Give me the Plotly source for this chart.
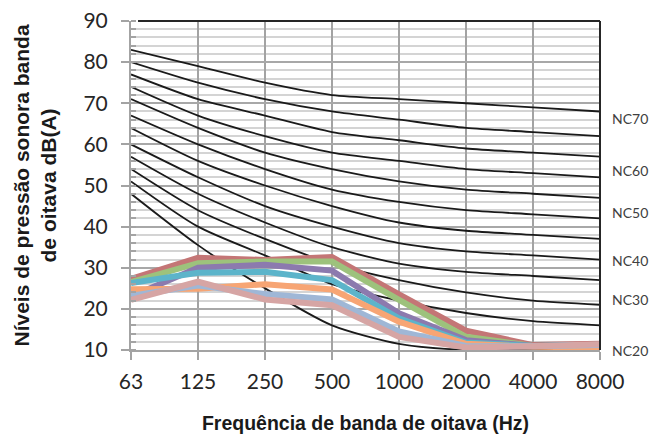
import plotly.graph_objects as go

freqs = ["63", "125", "250", "500", "1000", "2000", "4000", "8000"]

# NC reference curves (dB) at each octave band
nc_names = ["NC70", "NC65", "NC60", "NC55", "NC50", "NC45", "NC40", "NC35", "NC30", "NC25", "NC20", "NC15"]
nc70 = [83, 79, 75, 72, 71, 70, 69, 68]
nc65 = [80, 75, 71, 68, 66, 64, 63, 62]
nc60 = [77, 71, 67, 63, 61, 59, 58, 57]
nc55 = [74, 67, 62, 58, 56, 54, 53, 52]
nc50 = [71, 64, 58, 54, 51, 49, 48, 47]
nc45 = [67, 60, 54, 49, 46, 44, 43, 42]
nc40 = [64, 56, 50, 45, 41, 39, 38, 37]
nc35 = [60, 52, 45, 40, 36, 34, 33, 32]
nc30 = [57, 48, 41, 35, 31, 29, 28, 27]
nc25 = [54, 44, 37, 31, 27, 24, 22, 21]
nc20 = [51, 40, 33, 26, 22, 19, 17, 16]
nc15 = [48, 35.5, 25, 16, 11.5, 10, 10, 10]
nc_curves = [nc70, nc65, nc60, nc55, nc50, nc45, nc40, nc35, nc30, nc25, nc20, nc15]

# Measured spectra
s_red = [27.3, 32.4, 31.9, 32.6, 23.5, 14.7, 11.2, 11.5]
s_green = [26.5, 31.1, 31.5, 31.5, 22.2, 13.2, 11.0, 11.3]
s_purple = [23.0, 30.0, 30.7, 29.3, 18.9, 12.4, 11.0, 11.3]
s_cyan = [26.3, 28.8, 29.0, 27.0, 17.7, 11.8, 11.0, 11.2]
s_orange = [24.8, 24.9, 26.0, 24.7, 16.9, 11.5, 10.8, 10.6]
s_lblue = [23.2, 25.7, 23.6, 22.3, 14.5, 11.0, 10.9, 11.2]
s_pink = [22.2, 26.6, 22.3, 20.9, 13.2, 10.6, 10.9, 11.4]
series = [s_red, s_green, s_purple, s_cyan, s_orange, s_lblue, s_pink]
series_colors = ["#C47676", "#9DC27C", "#8C7AAE", "#5CB4CA", "#F7A574", "#9FB7D6", "#D6A5A4"]

label_names = ["NC70", "NC60", "NC50", "NC40", "NC30", "NC20"]
label_pos = [0.705, 0.547, 0.419, 0.271, 0.153, -0.003]  # fraction of plot height

fig = go.Figure()
for name, vals in zip(nc_names, nc_curves):
    fig.add_trace(go.Scatter(x=freqs, y=vals, mode="lines", name=name,
                             line=dict(color="#1A1A1A", width=1.8, shape="spline", smoothing=0.7),
                             showlegend=False, hoverinfo="skip"))
for vals, col in zip(series, series_colors):
    fig.add_trace(go.Scatter(x=freqs, y=vals, mode="lines",
                             line=dict(color=col, width=6),
                             showlegend=False))

for name, yv in zip(label_names, label_pos):
    fig.add_annotation(x=1, xref="paper", y=yv, yref="paper", text=name, showarrow=False,
                       xanchor="left", yanchor="middle", xshift=10,
                       font=dict(family="Lato", size=14, color="#404040"))

# Y title (two lines)
fig.add_annotation(x=0, xref="paper", xshift=-97, y=0.5, yref="paper",
                   text="<b>Níveis de pressão sonora banda<br>de oitava dB(A)</b>",
                   textangle=-90, showarrow=False, xanchor="center", yanchor="middle",
                   font=dict(family="Liberation Sans", size=21, color="#1A1A1A"))

# top and right borders
fig.add_shape(type="line", xref="paper", yref="paper", x0=0.015, x1=1, y0=1, y1=1,
              line=dict(color="#262626", width=2))
fig.add_shape(type="line", xref="paper", yref="paper", x0=1, x1=1, y0=0, y1=1,
              line=dict(color="#262626", width=2))

fig.update_layout(
    width=660, height=443,
    margin=dict(l=131, r=60, t=21, b=93),
    plot_bgcolor="white", paper_bgcolor="white",
    xaxis=dict(type="category", range=[0, 7], showgrid=True, gridcolor="#A3A3A3", gridwidth=2,
               showline=True, linecolor="#A3A3A3", linewidth=2, automargin=False,
               ticks="outside", ticklen=8, tickcolor="#A3A3A3", tickwidth=2,
               ticklabelstandoff=4,
               tickfont=dict(family="Lato", size=21, color="#262626"),
               title=dict(text="<b>Frequência de banda de oitava (Hz)</b>", standoff=24,
                          font=dict(family="Liberation Sans", size=19.5, color="#1A1A1A")),
               zeroline=False),
    yaxis=dict(range=[10, 90], dtick=10, tick0=10, showgrid=True, gridcolor="#A8A8A8", gridwidth=2,
               showline=True, linecolor="#A3A3A3", linewidth=2, automargin=False,
               ticks="outside", ticklen=8, tickcolor="#A3A3A3", tickwidth=2,
               ticklabelstandoff=9,
               tickfont=dict(family="Lato", size=21, color="#262626"),
               minor=dict(dtick=2, showgrid=True, gridcolor="#D4D4D4", gridwidth=2,
                          ticks="inside", ticklen=5, tickcolor="#A3A3A3", tickwidth=2),
               zeroline=False),
)

fig.write_html("out.html", config={"displayModeBar": False},
               post_script="document.body.style.margin='0';")
